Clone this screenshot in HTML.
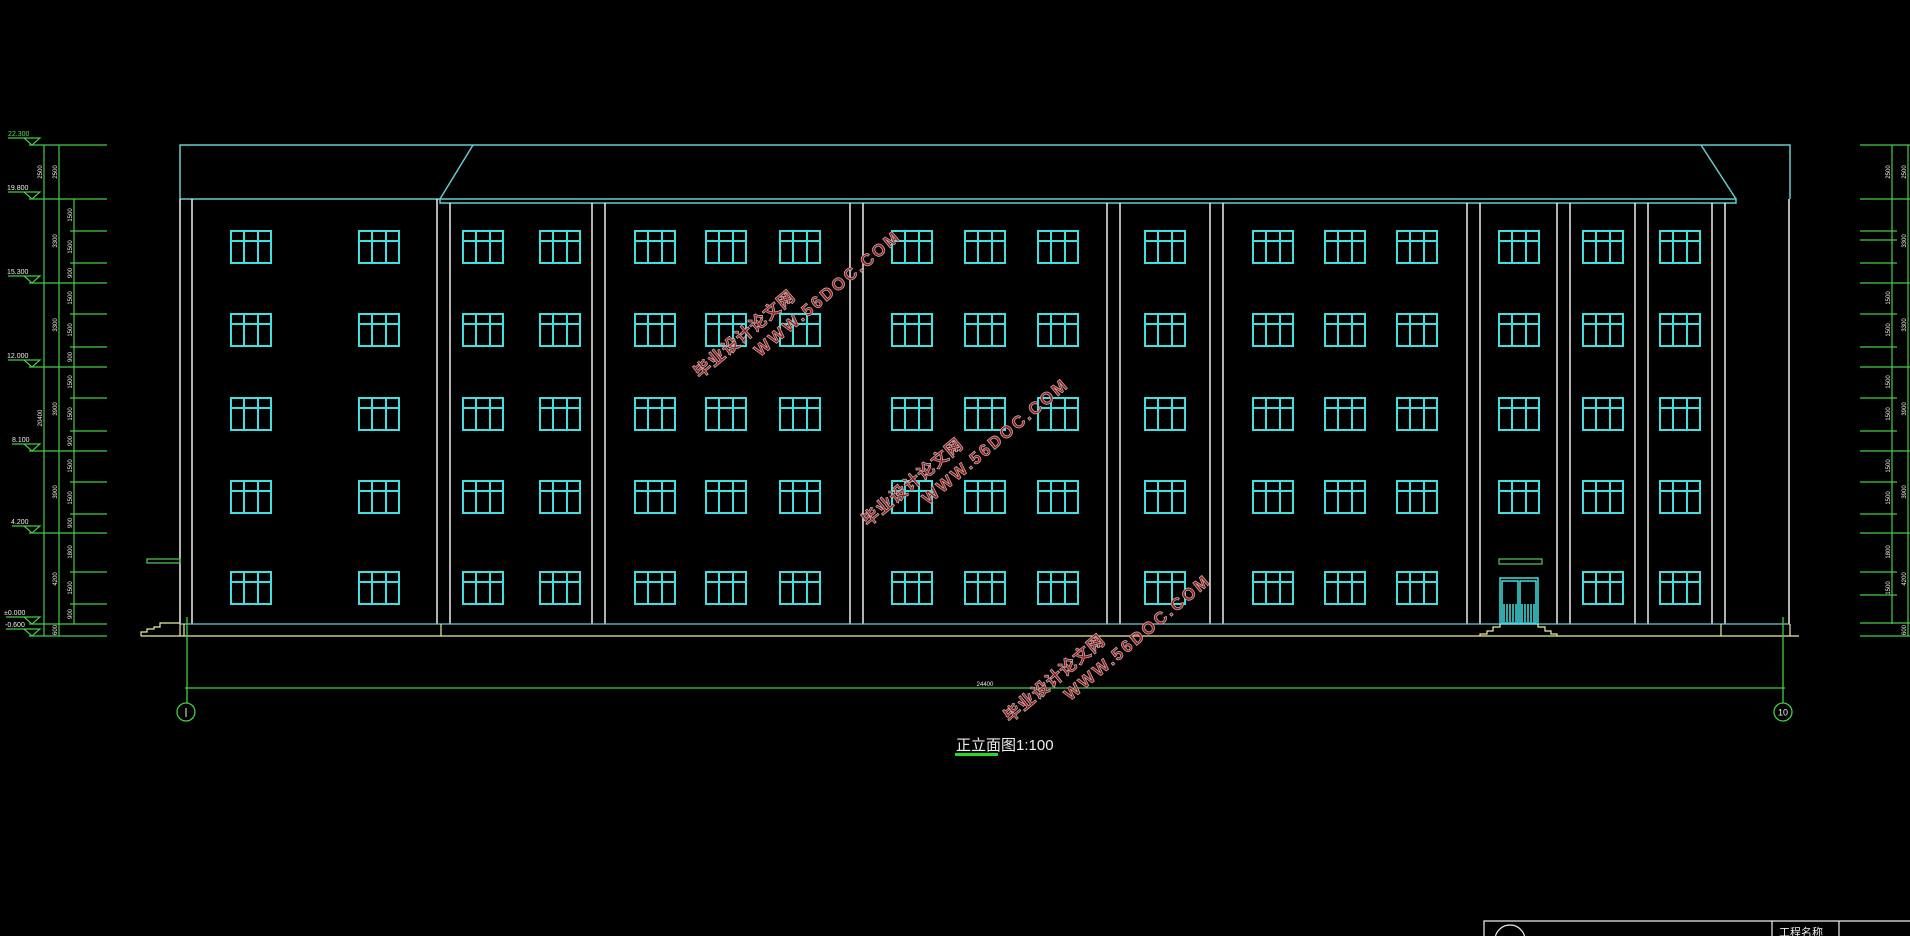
<!DOCTYPE html>
<html><head><meta charset="utf-8"><style>
html,body{margin:0;padding:0;background:#000;}
svg{display:block;}
.t{font-family:"Liberation Sans","Noto Sans CJK SC",sans-serif;fill:#eee;}
</style></head><body>
<svg width="1910" height="936" viewBox="0 0 1910 936" xmlns="http://www.w3.org/2000/svg">
<defs>
<g id="w" fill="none" stroke="#40e0e0" stroke-width="2">
<rect x="0" y="0" width="40" height="32"/>
<line x1="13" y1="0" x2="13" y2="32"/><line x1="27" y1="0" x2="27" y2="32"/>
<line x1="0" y1="10" x2="40" y2="10"/>
</g>
<g id="row">
<use href="#w" x="231"/><use href="#w" x="359"/><use href="#w" x="463"/><use href="#w" x="540"/>
<use href="#w" x="635"/><use href="#w" x="706"/><use href="#w" x="780"/><use href="#w" x="892"/>
<use href="#w" x="965"/><use href="#w" x="1038"/><use href="#w" x="1145"/><use href="#w" x="1253"/>
<use href="#w" x="1325"/><use href="#w" x="1397"/><use href="#w" x="1583"/><use href="#w" x="1660"/>
</g>
</defs>
<rect width="1910" height="936" fill="#000"/>
<g fill="none" stroke="#6cc" stroke-width="1.5">
<polyline points="180,199 180,145 1790,145 1790,199"/>
<line x1="180" y1="199" x2="440" y2="199"/>
<line x1="473" y1="145" x2="440" y2="199"/>
<line x1="1701" y1="145" x2="1736" y2="199"/>
<rect x="440" y="199" width="1296" height="4"/>
</g>
<g stroke="#eee" stroke-width="1.5">
<line x1="180" y1="199" x2="180" y2="624"/><line x1="192" y1="199" x2="192" y2="624"/>
<line x1="437" y1="199" x2="437" y2="624"/><line x1="450" y1="203" x2="450" y2="624"/>
<line x1="592" y1="203" x2="592" y2="624"/><line x1="605" y1="203" x2="605" y2="624"/>
<line x1="850" y1="203" x2="850" y2="624"/><line x1="863" y1="203" x2="863" y2="624"/>
<line x1="1107" y1="203" x2="1107" y2="624"/><line x1="1120" y1="203" x2="1120" y2="624"/>
<line x1="1210" y1="203" x2="1210" y2="624"/><line x1="1223" y1="203" x2="1223" y2="624"/>
<line x1="1467" y1="203" x2="1467" y2="624"/><line x1="1480" y1="203" x2="1480" y2="624"/>
<line x1="1557" y1="203" x2="1557" y2="624"/><line x1="1570" y1="203" x2="1570" y2="624"/>
<line x1="1635" y1="203" x2="1635" y2="624"/><line x1="1648" y1="203" x2="1648" y2="624"/>
<line x1="1712" y1="203" x2="1712" y2="624"/><line x1="1725" y1="203" x2="1725" y2="624"/>
<line x1="1789" y1="199" x2="1789" y2="624"/>
</g>
<use href="#row" y="231"/><use href="#row" y="314"/><use href="#row" y="398"/><use href="#row" y="481"/><use href="#row" y="572"/>
<use href="#w" x="1499" y="231"/><use href="#w" x="1499" y="314"/><use href="#w" x="1499" y="398"/><use href="#w" x="1499" y="481"/>
<g fill="none" stroke="#40e0e0" stroke-width="1.5">
<rect x="1500" y="578" width="38" height="46"/>
<rect x="1502" y="581" width="16" height="42"/><rect x="1520" y="581" width="16" height="42"/>
<path d="M1504 604V622M1507 604V622M1510 604V622M1513 604V622M1516 604V622M1522 604V622M1525 604V622M1528 604V622M1531 604V622M1534 604V622"/>
</g>
<rect x="1499" y="559" width="43" height="5" fill="none" stroke="#5c5" stroke-width="1.2"/>
<rect x="147" y="559" width="33" height="4" fill="none" stroke="#5c5" stroke-width="1.2"/>
<line x1="180" y1="624" x2="1790" y2="624" stroke="#6cc" stroke-width="1.2"/>
<g fill="none" stroke="#eeeea0" stroke-width="1.2">
<line x1="141" y1="636" x2="1799" y2="636"/>
<line x1="441" y1="624" x2="441" y2="636"/><line x1="1721" y1="624" x2="1721" y2="636"/><line x1="1790" y1="624" x2="1790" y2="636"/>
<polyline points="141,636 141,632 147,632 147,629 154,629 154,627 160,627 160,623 180,623"/>
<polyline points="1480,636 1480,634 1487,634 1487,631 1493,631 1493,627 1500,627 1500,624"/>
<polyline points="1557,636 1557,634 1551,634 1551,631 1545,631 1545,627 1538,627 1538,624"/>
<line x1="180" y1="624" x2="180" y2="636"/><line x1="184" y1="624" x2="184" y2="636"/>
</g>
<g stroke="#4c4" stroke-width="1.3" fill="none">
<line x1="187" y1="617" x2="187" y2="703"/><line x1="1783" y1="617" x2="1783" y2="703"/>
<line x1="185" y1="688" x2="1785" y2="688"/>
<circle cx="186" cy="712" r="9"/><circle cx="1783" cy="712" r="9"/>
</g>
<line x1="186" y1="708" x2="186" y2="717" stroke="#eee" stroke-width="1"/>
<text class="t" x="1783" y="715.5" font-size="9" text-anchor="middle">10</text>
<text class="t" x="985" y="686" font-size="6" text-anchor="middle">24400</text>
<text class="t" x="956" y="750" font-size="15">正立面图1:100</text>
<rect x="955" y="753" width="43" height="3" fill="#2d2"/>
<g stroke="#4c4" stroke-width="1.2" fill="none">
<line x1="44" y1="145" x2="44" y2="636"/><line x1="59" y1="145" x2="59" y2="636"/><line x1="74" y1="199" x2="74" y2="624"/>
<path d="M29 145H107M29 199H107M29 283H107M29 367H107M29 451H107M29 533H107M29 624H107M29 636H107"/>
<path d="M70 231H107M70 263H107M70 314H107M70 347H107M70 398H107M70 431H107M70 482H107M70 514H107M70 572H107M70 604H107"/>
<path d="M8 138H40L32 145 24 138M8 192H40L32 199 24 192M8 276H40L32 283 24 276M8 360H40L32 367 24 360M12 444H40L32 451 24 444M12 526H40L32 533 24 526M6 617H40L32 624 24 617M6 629H40L32 636 24 629"/>
</g>
<g class="t" font-size="7">
<text x="8" y="136" fill="#5d5">22.300</text><text x="7" y="190">19.800</text><text x="7" y="274">15.300</text><text x="7" y="358">12.000</text><text x="12" y="442">8.100</text><text x="11" y="524">4.200</text><text x="4" y="615">±0.000</text><text x="5" y="627">-0.600</text>
</g>
<g class="t" font-size="6" text-anchor="middle">
<text transform="translate(42,172) rotate(-90)">2500</text>
<text transform="translate(57,172) rotate(-90)">2500</text>
<text transform="translate(42,418) rotate(-90)">20400</text>
<text transform="translate(57,241) rotate(-90)">3300</text>
<text transform="translate(57,325) rotate(-90)">3300</text>
<text transform="translate(57,409) rotate(-90)">3900</text>
<text transform="translate(57,492) rotate(-90)">3900</text>
<text transform="translate(57,579) rotate(-90)">4200</text>
<text transform="translate(57,630) rotate(-90)">600</text>
<text transform="translate(72,215) rotate(-90)">1500</text><text transform="translate(72,247) rotate(-90)">1500</text><text transform="translate(72,273) rotate(-90)">900</text>
<text transform="translate(72,298) rotate(-90)">1500</text><text transform="translate(72,330) rotate(-90)">1500</text><text transform="translate(72,357) rotate(-90)">900</text>
<text transform="translate(72,382) rotate(-90)">1500</text><text transform="translate(72,414) rotate(-90)">1500</text><text transform="translate(72,441) rotate(-90)">900</text>
<text transform="translate(72,466) rotate(-90)">1500</text><text transform="translate(72,498) rotate(-90)">1500</text><text transform="translate(72,523) rotate(-90)">900</text>
<text transform="translate(72,552) rotate(-90)">1800</text><text transform="translate(72,588) rotate(-90)">1500</text><text transform="translate(72,614) rotate(-90)">900</text>
<text transform="translate(1890,172) rotate(-90)">2500</text><text transform="translate(1906,172) rotate(-90)">2500</text>
<text transform="translate(1906,241) rotate(-90)">3300</text><text transform="translate(1906,325) rotate(-90)">3300</text>
<text transform="translate(1906,409) rotate(-90)">3900</text><text transform="translate(1906,492) rotate(-90)">3900</text>
<text transform="translate(1906,579) rotate(-90)">4200</text><text transform="translate(1906,630) rotate(-90)">600</text>
<text transform="translate(1890,298) rotate(-90)">1500</text><text transform="translate(1890,382) rotate(-90)">1500</text>
<text transform="translate(1890,466) rotate(-90)">1500</text><text transform="translate(1890,552) rotate(-90)">1800</text>
<text transform="translate(1890,330) rotate(-90)">1500</text><text transform="translate(1890,414) rotate(-90)">1500</text>
<text transform="translate(1890,498) rotate(-90)">1500</text><text transform="translate(1890,588) rotate(-90)">1500</text>
</g>
<g stroke="#4c4" stroke-width="1.2" fill="none">
<line x1="1892" y1="145" x2="1892" y2="624"/><line x1="1908" y1="145" x2="1908" y2="636"/>
<path d="M1860 145H1910M1860 199H1910M1860 283H1910M1860 367H1910M1860 451H1910M1860 533H1910M1860 623H1910M1860 636H1910"/>
<path d="M1860 231H1897M1860 240H1897M1860 263H1897M1860 314H1897M1860 347H1897M1860 398H1897M1860 431H1897M1860 482H1897M1860 514H1897M1860 572H1897M1860 595H1897"/>
</g>
<g stroke="#eee" stroke-width="1.2" fill="none">
<path d="M1484 936V921H1910M1772 921V936M1839 921V936"/>
<circle cx="1510" cy="940" r="15"/>
</g>
<text class="t" x="1779" y="936" font-size="11">工程名称</text>
<g font-family="'Liberation Sans','Noto Sans CJK SC',sans-serif" font-weight="bold" fill="#9a1818" stroke="#c0a8a8" stroke-width="0.8" font-size="17">
<g transform="translate(700,379) rotate(-40)"><text x="0" y="0" letter-spacing="1">毕业设计论文网</text><text x="60" y="22" letter-spacing="2.5">WWW.56DOC.COM</text></g>
<g transform="translate(868,527) rotate(-40)"><text x="0" y="0" letter-spacing="1">毕业设计论文网</text><text x="60" y="22" letter-spacing="2.5">WWW.56DOC.COM</text></g>
<g transform="translate(1010,723) rotate(-40)"><text x="0" y="0" letter-spacing="1">毕业设计论文网</text><text x="60" y="22" letter-spacing="2.5">WWW.56DOC.COM</text></g>
</g>
</svg>
</body></html>
